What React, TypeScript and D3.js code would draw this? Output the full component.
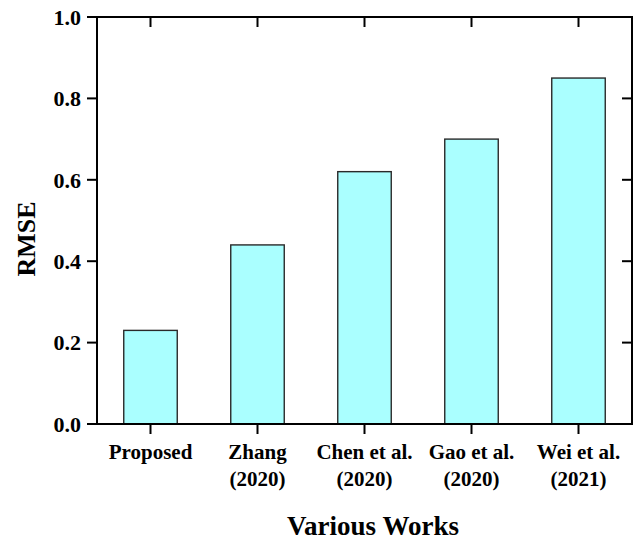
import React from 'react';
import * as d3 from 'd3';

const W = 640;
const H = 543;
const MARGIN = { top: 17, right: 8, bottom: 119, left: 97 };

const works = ['Proposed', 'Zhang (2020)', 'Chen et al. (2020)', 'Gao et al. (2020)', 'Wei et al. (2021)'];
const labelLines = [['Proposed'], ['Zhang', '(2020)'], ['Chen et al.', '(2020)'], ['Gao et al.', '(2020)'], ['Wei et al.', '(2021)']];
const rmse = [0.23, 0.44, 0.62, 0.70, 0.85];
const yTicks = [0, 0.2, 0.4, 0.6, 0.8, 1.0];

const FONT = '"Liberation Serif", "Times New Roman", serif';
const TICK = 10;

export default function App() {
  const innerW = W - MARGIN.left - MARGIN.right;
  const innerH = H - MARGIN.top - MARGIN.bottom;

  const x = d3.scaleBand<string>().domain(works).range([0, innerW]).paddingInner(0.5).paddingOuter(0.25);
  const xc = d3.scaleBand<string>().domain(works).range([0, innerW]);
  const y = d3.scaleLinear().domain([0, 1]).range([innerH, 0]);

  return (
    <div style={{ position: 'absolute', left: 0, top: 0 }}>
      <svg width={W} height={H} style={{ display: 'block', background: '#fff' }}>
        <g transform={`translate(${MARGIN.left},${MARGIN.top})`}>
          {/* bars */}
          {works.map((w, i) => (
            <rect key={w}
              x={x(w)} y={y(rmse[i])}
              width={x.bandwidth()} height={innerH - y(rmse[i])}
              fill="#aaffff" stroke="#2a2a2a" strokeWidth={1.4} />
          ))}

          {/* frame */}
          <rect x={0} y={0} width={innerW} height={innerH} fill="none" stroke="#000" strokeWidth={2} />

          {/* y ticks: outward left, inward right */}
          {yTicks.map(t => (
            <g key={t}>
              <line x1={-TICK} x2={0} y1={y(t)} y2={y(t)} stroke="#000" strokeWidth={2} />
              <line x1={innerW - TICK} x2={innerW} y1={y(t)} y2={y(t)} stroke="#000" strokeWidth={2} />
              <text x={-16} y={y(t)} dy="0.35em" textAnchor="end"
                fontFamily={FONT} fontWeight="bold" fontSize={22}>{d3.format('.1f')(t)}</text>
            </g>
          ))}

          {/* x ticks: outward bottom, inward top */}
          {works.map((w, i) => {
            const cx = (xc(w) ?? 0) + xc.bandwidth() / 2;
            return (
              <g key={w}>
                <line x1={cx} x2={cx} y1={innerH} y2={innerH + TICK} stroke="#000" strokeWidth={2} />
                <line x1={cx} x2={cx} y1={0} y2={TICK} stroke="#000" strokeWidth={2} />
                {labelLines[i].map((ln, j) => (
                  <text key={j} x={cx} y={innerH + 35 + j * 27} textAnchor="middle"
                    fontFamily={FONT} fontWeight="bold" fontSize={21}>{ln}</text>
                ))}
              </g>
            );
          })}
        </g>

        {/* axis titles */}
        <text x={373} y={535} textAnchor="middle" fontFamily={FONT} fontWeight="bold" fontSize={27}>Various Works</text>
        <text transform={`translate(35,239) rotate(-90)`} textAnchor="middle"
          fontFamily={FONT} fontWeight="bold" fontSize={26}>RMSE</text>
      </svg>
    </div>
  );
}
